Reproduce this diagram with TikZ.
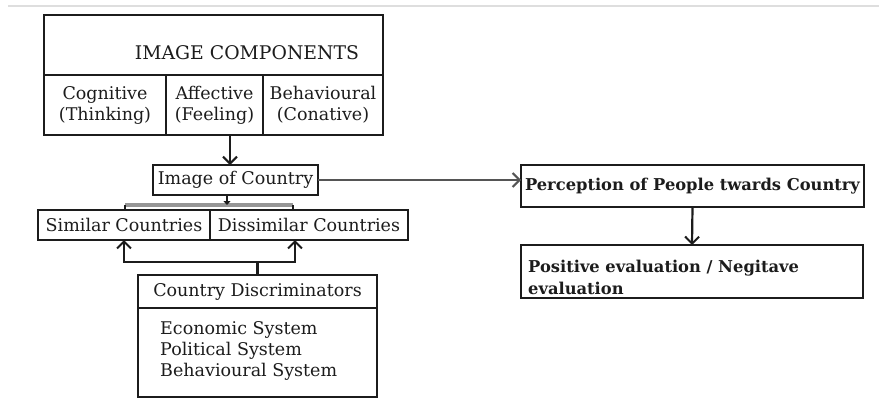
\documentclass[tikz,border=0pt]{standalone}
\usepackage{fontspec}
\setmainfont{DejaVu Serif}
\usetikzlibrary{arrows.meta}
\definecolor{ink}{RGB}{28,28,28}
\definecolor{rule}{RGB}{222,222,222}
\definecolor{bar}{RGB}{150,150,150}
\begin{document}
\begin{tikzpicture}[x=1pt,y=-1pt,
  box/.style={draw=ink, line width=2.6pt, rectangle, inner sep=0pt, outer sep=0pt,
    anchor=north west, align=center, text=ink},
  lbl/.style={font=\fontsize{17.5}{21}\selectfont},
  rlbl/.style={font=\bfseries\fontsize{16.3}{22}\selectfont},
  link/.style={draw=ink, line width=2.2pt},
  arr/.style={link, -{Straight Barb[length=7pt,width=14pt,line width=2pt]}},
]
\useasboundingbox[fill=white] (0,0) rectangle (879,402);
% thin rule along the top edge
\draw[rule, line width=1.2pt] (8,6) -- (879,6);

% image components table
\node[box, minimum width=339pt, minimum height=120pt] (comp) at (44,15) {};
\node[text=ink, font=\fontsize{18.8}{21}\selectfont] (comptitle) at (247,53) {IMAGE COMPONENTS};
\node[box, lbl, minimum width=122pt, minimum height=60pt] (cog) at (44,75) {Cognitive\\(Thinking)};
\node[box, lbl, minimum width=97pt, minimum height=60pt] (aff) at (166,75) {Affective\\(Feeling)};
\node[box, lbl, minimum width=120pt, minimum height=60pt] (beh) at (263,75) {Behavioural\\(Conative)};

% image of country and the two country groups
\node[box, lbl, minimum width=165pt, minimum height=30pt] (ioc) at (153,165) {Image of Country};
\node[box, lbl, minimum width=172pt, minimum height=30pt] (sim) at (38,210) {Similar Countries};
\node[box, lbl, minimum width=198pt, minimum height=30pt] (dis) at (210,210) {Dissimilar Countries};

% country discriminators
\node[box, lbl, minimum width=239pt, minimum height=33pt] (dischead) at (138,275) {Country Discriminators};
\node[box, minimum width=239pt, minimum height=89pt] (disbody) at (138,308) {};
\node[lbl, text=ink, anchor=north west, align=left, inner sep=0pt] (dislist) at (160,321)
  {Economic System\\Political System\\Behavioural System};

% perception and evaluation
\node[box, rlbl, minimum width=343pt, minimum height=42pt] (perc) at (521,165) {Perception of People twards Country};
\node[box, minimum width=342pt, minimum height=53pt] (pos) at (521,245) {};
\node[rlbl, text=ink, anchor=north west, align=left, inner sep=0pt] (postext) at (528,260)
  {Positive evaluation / Negitave\\evaluation};

% connectors
\draw[arr] ([xshift=-5.5pt]ioc.north |- comp.south) -- ([xshift=-5.5pt]ioc.north);
\draw[arr, draw=ink!75] (ioc.east) -- (ioc.east -| perc.west);
\draw[arr] (perc.south) -- (pos.north);

% grey bracket under image of country
\coordinate (barL) at (125,205);
\coordinate (barR) at (293,205);
\draw[bar, line width=4pt] (barL) -- (barR);
\draw[link, line width=1.6pt] (barL) -- (barL |- sim.north);
\draw[link, line width=1.6pt] (barR) -- (barR |- dis.north);
\draw[link, -{Triangle[length=4pt,width=7pt]}] ([xshift=-8.5pt]ioc.south) -- ([xshift=-8.5pt]ioc.south |- barL);

% discriminators feeding both groups
\coordinate (jn) at (dischead.north |- 0,262);
\coordinate (jl) at (124,262);
\coordinate (jr) at (295,262);
\draw[link] (dischead.north) -- (jn);
\draw[arr] (jn) -| (jl |- sim.south);
\draw[arr] (jn) -| (jr |- dis.south);
\end{tikzpicture}
\end{document}
